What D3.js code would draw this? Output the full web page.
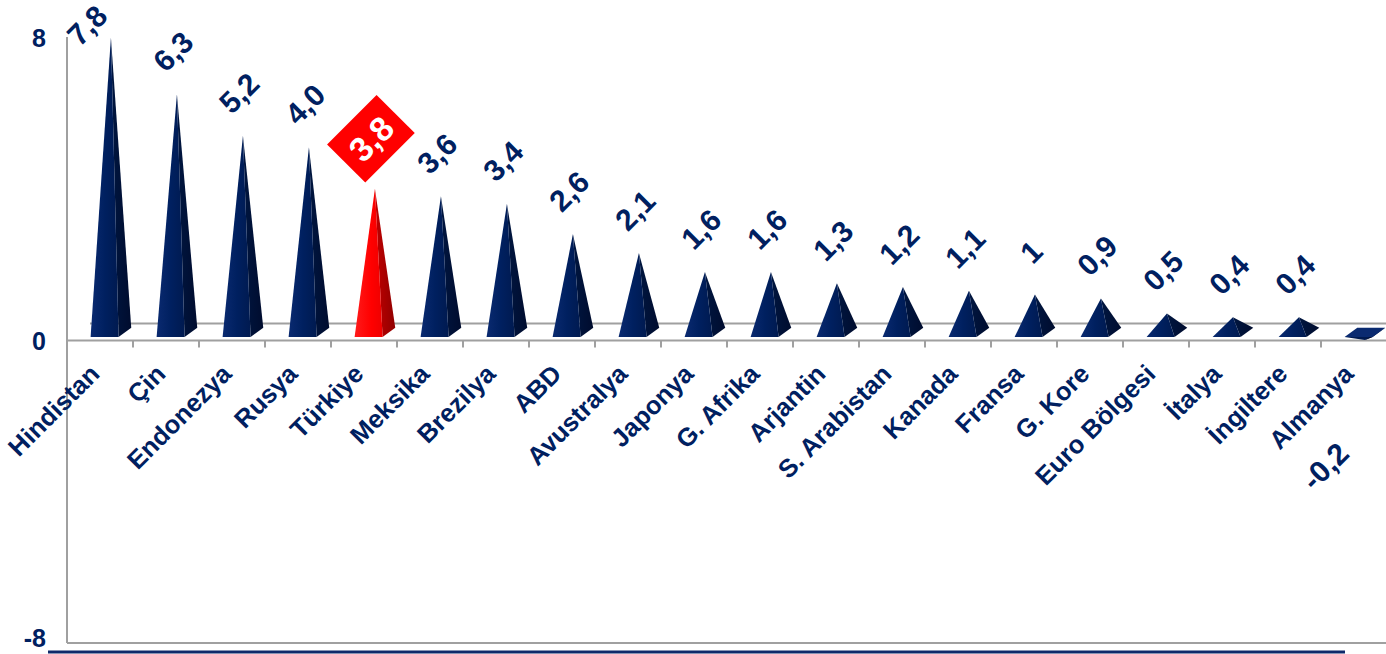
<!DOCTYPE html>
<html>
<head>
<meta charset="utf-8">
<script src="https://cdn.jsdelivr.net/npm/d3@7"></script>
<style>
  html, body { margin: 0; padding: 0; background: #ffffff; }
  svg { display: block; }
  text { font-family: "Liberation Sans", Arial, sans-serif; font-weight: bold; }
</style>
</head>
<body>
<svg id="chart" width="1386" height="654"></svg>
<script>
// ---- data ----
const categories = ["Hindistan", "Çin", "Endonezya", "Rusya", "Türkiye", "Meksika", "Brezilya", "ABD",
  "Avustralya", "Japonya", "G. Afrika", "Arjantin", "S. Arabistan", "Kanada", "Fransa", "G. Kore",
  "Euro Bölgesi", "İtalya", "İngiltere", "Almanya"];
// heights as drawn in the picture
const values = [7.8, 6.3, 5.2, 4.9, 3.8, 3.6, 3.4, 2.6, 2.1, 1.6, 1.6, 1.3, 1.2, 1.1, 1.0, 0.9, 0.5, 0.4, 0.4, -0.2];
// value labels as printed in the picture
const valueLabels = ["7,8", "6,3", "5,2", "4,0", "3,8", "3,6", "3,4", "2,6", "2,1", "1,6", "1,6", "1,3", "1,2",
  "1,1", "1", "0,9", "0,5", "0,4", "0,4", "-0,2"];
const highlight = "Türkiye";
const yTicks = [-8, 0, 8];

// ---- layout ----
const svg = d3.select("#chart");
const navy = "#002060";
const gray = "#a0a0a0";
const x = d3.scaleBand().domain(categories).range([67, 1387]).padding(0);
const y = d3.scaleLinear().domain([-8, 8]).range([643, 38]);
const depth = { dx: 23, dy: -17 };   // 3-D depth vector
const bw = x.bandwidth();

// gradients
const defs = svg.append("defs");
function grad(id, stops) {
  const g = defs.append("linearGradient").attr("id", id).attr("x1", "0").attr("x2", "1").attr("y1", "0").attr("y2", "0");
  stops.forEach(s => g.append("stop").attr("offset", s[0]).attr("stop-color", s[1]));
}
grad("navyFront", [[0, "#0a2a70"], [0.5, "#002060"], [1, "#001a50"]]);
grad("navySide", [[0, "#001640"], [1, "#000c2e"]]);
grad("redFront", [[0, "#ff1a1a"], [0.6, "#ff0000"], [1, "#ee0000"]]);
grad("redSide", [[0, "#c00000"], [1, "#900000"]]);

// back floor line
const zeroY = y(0);
svg.append("line").attr("x1", 67 + depth.dx).attr("x2", 1386)
  .attr("y1", zeroY + depth.dy).attr("y2", zeroY + depth.dy)
  .attr("stroke", gray).attr("stroke-width", 2);

// y axis
svg.append("line").attr("x1", 67).attr("x2", 67).attr("y1", y(8) - 1).attr("y2", y(-8))
  .attr("stroke", gray).attr("stroke-width", 2);
svg.append("line").attr("x1", 67).attr("x2", 1386).attr("y1", y(-8)).attr("y2", y(-8))
  .attr("stroke", gray).attr("stroke-width", 2);

// x axis at zero
const xAxis = d3.axisBottom(x).tickSize(0).tickFormat("");
const gx = svg.append("g").attr("transform", `translate(0,${zeroY})`).call(xAxis);
gx.select(".domain").attr("stroke", gray).attr("stroke-width", 2).attr("d", "M67,0H1386");
const bounds = categories.map(c => x(c) + bw).filter(v => v < 1386);
gx.selectAll(".bt").data(bounds).enter().append("line").attr("class", "bt")
  .attr("x1", d => d).attr("x2", d => d).attr("y1", 0).attr("y2", 7)
  .attr("stroke", gray).attr("stroke-width", 2);

// y tick labels
svg.selectAll(".ylab").data(yTicks).enter().append("text").attr("class", "ylab")
  .attr("x", 46).attr("y", d => Math.min(y(d), 638)).attr("dy", "0.36em").attr("text-anchor", "end")
  .attr("font-size", 25).attr("fill", navy).text(d => d);

// pyramids
const f0 = 0.2, f1 = 0.75, half = 14;
const data = categories.map((c, i) => ({ c, v: values[i], lab: valueLabels[i], i }));
const gp = svg.append("g");
data.forEach(d => {
  const cx = x(d.c) + bw / 2;
  const fl = [cx - half + depth.dx * f0, zeroY + depth.dy * f0];
  const fr = [cx + half + depth.dx * f0, zeroY + depth.dy * f0];
  const br = [cx + half + depth.dx * f1, zeroY + depth.dy * f1];
  const bl = [cx - half + depth.dx * f1, zeroY + depth.dy * f1];
  const fm = (f0 + f1) / 2;
  const tip = [cx + depth.dx * fm, y(d.v) + depth.dy * fm];
  const isH = d.c === highlight;
  const front = isH ? "url(#redFront)" : "url(#navyFront)";
  const side = isH ? "url(#redSide)" : "url(#navySide)";
  d.tip = tip;
  if (d.v >= 0) {
    gp.append("path").attr("d", d3.line()([fr, br, tip])).attr("fill", side);
    gp.append("path").attr("d", d3.line()([fl, fr, tip])).attr("fill", front);
  } else {
    gp.append("path").attr("d", d3.line()([fl, fr, tip])).attr("fill", "#001a50");
    gp.append("path").attr("d", d3.line()([fr, br, tip])).attr("fill", "#000c2e");
    gp.append("path").attr("d", d3.line()([fl, fr, br, bl])).attr("fill", "#0a2a70");
  }
});

// value labels
data.forEach(d => {
  const isH = d.c === highlight;
  let lx, ly;
  if (d.v >= 0) {
    lx = d.tip[0] - 4; ly = d.tip[1] - (isH ? 50 : 43);
    if (ly < 25) { lx = d.tip[0] - 24; ly = 25; }
  } else {
    lx = d.tip[0] - 40; ly = d.tip[1] + 126;
  }
  const g = svg.append("g").attr("transform", `translate(${lx},${ly}) rotate(-45)`);
  if (isH) {
    g.append("rect").attr("x", -35).attr("y", -27).attr("width", 70).attr("height", 54).attr("fill", "#ff0000");
  }
  g.append("text").attr("text-anchor", "middle").attr("dy", "0.36em")
    .attr("font-size", isH ? 34 : 30).attr("fill", isH ? "#ffffff" : navy).text(d.lab);
});

// category labels
svg.selectAll(".xlab").data(categories).enter().append("text").attr("class", "xlab")
  .attr("transform", d => `translate(${x(d) + bw / 2 + 1},${zeroY + 35}) rotate(-45)`)
  .attr("text-anchor", "end").attr("font-size", 25.5).attr("fill", navy).text(d => d);

// bottom navy line
svg.append("line").attr("x1", 48).attr("x2", 1345).attr("y1", 652).attr("y2", 652)
  .attr("stroke", "#0e2a6b").attr("stroke-width", 3);
</script>
</body>
</html>
